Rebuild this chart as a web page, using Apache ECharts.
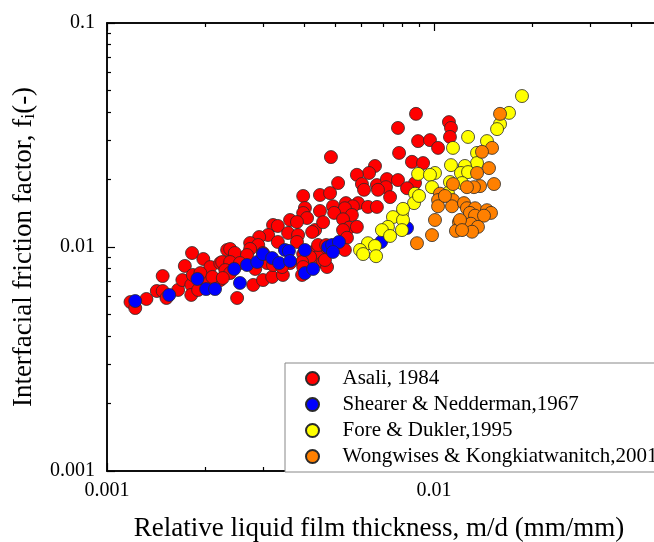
<!DOCTYPE html>
<html><head><meta charset="utf-8">
<script src="https://cdn.jsdelivr.net/npm/echarts@6/dist/echarts.min.js"></script>
<style>html,body{margin:0;padding:0;overflow:hidden;background:#fff;width:654px;height:542px}#c{width:900px;height:542px}</style>
</head><body><div id="c"></div><script>
const seriesNames = ['Asali, 1984', 'Shearer & Nedderman,1967', 'Fore & Dukler,1995', 'Wongwises & Kongkiatwanitch,2001'];
const seriesColors = ['#ff0000', '#0000ff', '#ffff00', '#ff8000'];

const asaliX = [0.00118,0.00122,0.00132,0.00142,0.00148,0.00152,0.00148,0.00165,0.00170,0.00173,0.00182,0.00181,0.00181,0.00197,0.00183,0.00195,0.00207,0.00222,0.00233,0.00204,0.00222,0.00190,0.00193,0.00210,0.00250,0.00280,0.00300,0.00320,0.00345,0.00395,
0.00398,0.00448,0.00403,0.00398,0.00448,0.00409,0.00363,0.00381,0.00322,0.00333,0.00433,0.00424,0.00311,0.00333,0.00358,0.00384,0.00292,0.00274,0.00290,0.00381,0.00238,0.00246,0.00274,0.00268,0.00300,0.00471,0.00427,0.00398,0.00442,0.00418,0.00225,0.00238,0.00255,0.00395,0.00458,0.00363,0.00230,0.00238,0.00284,0.00309,0.00322,0.00226,0.00398,0.00471,0.00442,0.00343,
0.00776,0.00881,0.00894,0.00972,0.00782,0.00856,0.00926,0.00484,0.00660,0.00633,0.00581,0.00509,0.00669,0.00718,0.00776,0.00875,0.00713,0.00674,0.00602,0.00611,0.00827,0.00481,0.00734,0.00586,0.00538,0.00565,0.00491,0.00534,0.00628,0.00669,0.00495,0.00561,0.00527,0.00550,0.00581,0.00527,0.00458,0.00542,0.00468,0.00534,0.00464,0.01111,0.01127,0.01119,0.01029];
const asaliY = [0.00568,0.00534,0.00586,0.00636,0.00636,0.00592,0.00742,0.00643,0.00712,0.00823,0.00940,0.00677,0.00611,0.00884,0.00750,0.00677,0.00814,0.00848,0.00970,0.00712,0.00712,0.00643,0.00765,0.00735,0.00592,0.00677,0.00712,0.00735,0.00750,0.00750,
0.01690,0.01707,0.01493,0.01418,0.01448,0.01347,0.01320,0.01293,0.01254,0.01241,0.01191,0.01167,0.01131,0.01053,0.01155,0.01131,0.01108,0.01042,0.01021,0.01053,0.00980,0.00940,0.00980,0.00921,0.00940,0.00970,0.00950,0.00930,0.00903,0.00903,0.00857,0.00857,0.00848,0.00857,0.00857,0.00848,0.00789,0.00765,0.00798,0.00848,0.00831,0.00727,0.00814,0.00814,0.01021,0.00814,
0.0340,0.0393,0.0297,0.0300,0.0263,0.0240,0.0237,0.0252,0.0230,0.0214,0.0210,0.0193,0.0189,0.0201,0.0199,0.0193,0.0185,0.0180,0.0191,0.0180,0.0183,0.0174,0.0167,0.0157,0.0157,0.0152,0.0152,0.0149,0.0151,0.0151,0.0142,0.0139,0.0133,0.0122,0.0123,0.0119,0.0129,0.0110,0.0102,0.0097,0.00875,0.0361,0.0340,0.0310,0.0277];

const shearerX = [0.00122,0.00155,0.00189,0.00201,0.00214,0.00245,0.00255,0.00268,0.00288,0.00300,0.00320,0.00336,0.00350,0.00360,0.00363,0.00403,0.00403,0.00427,0.00474,0.00488,0.00512,0.00491,0.00689,0.00827];
const shearerY = [0.00574,0.00611,0.00720,0.00649,0.00649,0.00798,0.00691,0.00831,0.00857,0.00930,0.00893,0.00848,0.00970,0.00960,0.00866,0.00970,0.00765,0.00798,0.01000,0.01021,0.01053,0.00950,0.01053,0.01216];

const foreX = [0.00894,0.00875,0.00869,0.00900,0.00798,0.00749,0.00804,0.00798,0.00723,0.00693,0.00734,0.00628,0.00660,0.00594,0.00607,0.00665,0.00804,0.01858,0.01696,0.01592,0.01559,0.01271,0.01452,0.01143,0.01354,0.01354,0.01127,0.01243,0.01209,0.01271,0.01007,0.00972,0.01119,0.01218,0.00986,0.01103];
const foreY = [0.0212,0.0173,0.0157,0.0169,0.0140,0.0136,0.0132,0.0119,0.0123,0.0119,0.0112,0.0104,0.0101,0.0097,0.0093,0.0091,0.0148,0.0472,0.0397,0.0354,0.0336,0.0310,0.0297,0.0277,0.0263,0.0237,0.0232,0.0230,0.0214,0.0216,0.0214,0.0210,0.0195,0.0193,0.0185,0.0174];

const wongX = [0.00887,0.00986,0.01592,0.01505,0.01402,0.01473,0.01354,0.01526,0.01383,0.01325,0.01261,0.01143,0.01043,0.01029,0.01029,0.01143,0.01135,0.01235,0.01261,0.01335,0.01288,0.01335,0.01452,0.01494,0.01422,0.01192,0.01226,0.01297,0.01363,0.01167,0.01307,0.01007,0.01080,0.01201,0.01218];
const wongY = [0.0104,0.0113,0.0393,0.0277,0.0266,0.0225,0.0214,0.0191,0.0187,0.0185,0.0185,0.0191,0.0173,0.0162,0.0152,0.0162,0.0152,0.0157,0.0149,0.0149,0.0142,0.0138,0.0146,0.0142,0.0138,0.0129,0.0120,0.0127,0.0123,0.0118,0.0117,0.0132,0.0169,0.0132,0.0119];

const majorTicks = [0.001, 0.01, 0.1];
const majorLabels = ['0.001', '0.01', '0.1'];
const minorTicks = [0.002,0.003,0.004,0.005,0.006,0.007,0.008,0.009,0.02,0.03,0.04,0.05,0.06,0.07,0.08,0.09];
const xTitle = 'Relative liquid film thickness, m/d (mm/mm)';

const FONT = 'Liberation Serif';
const allX = [asaliX, shearerX, foreX, wongX];
const allY = [asaliY, shearerY, foreY, wongY];

function fmt(v) {
  let best = 0;
  for (let i = 1; i < majorTicks.length; i++) {
    if (Math.abs(Math.log10(v) - Math.log10(majorTicks[i])) < Math.abs(Math.log10(v) - Math.log10(majorTicks[best]))) best = i;
  }
  return majorLabels[best];
}

function mkAxis(pos, kind, isX) {
  const major = kind === 'major';
  const ax = {
    type: 'log', logBase: 10, min: 0.001, max: 0.1, position: pos,
    axisLine: { show: true, lineStyle: { color: '#000', width: 1.5 } },
    axisTick: { show: true, inside: true, length: major ? 8 : 4, customValues: major ? majorTicks : minorTicks, lineStyle: { color: '#000', width: 1.2 } },
    axisLabel: { show: false },
    splitLine: { show: false }
  };
  if (major && (pos === 'bottom' || pos === 'left')) {
    ax.axisLabel = { show: true, customValues: majorTicks, formatter: fmt, fontFamily: FONT, fontSize: 20, color: '#000', margin: isX ? 10 : 12 };
  }
  return ax;
}

const chart = echarts.init(document.getElementById('c'), null, { renderer: 'canvas' });
chart.setOption({
  animation: false,
  backgroundColor: '#fff',
  grid: { left: 107, top: 23, width: 654, height: 448 },
  xAxis: [mkAxis('bottom', 'major', true), mkAxis('bottom', 'minor', true), mkAxis('top', 'major', true), mkAxis('top', 'minor', true)],
  yAxis: [
    Object.assign(mkAxis('left', 'major', false), {
      name: '{a|Interfacial friction factor, f}{s|i}{a|(-)}',
      nameLocation: 'middle', nameGap: 69,
      nameTextStyle: { fontFamily: FONT, color: '#000', rich: { a: { fontFamily: FONT, fontSize: 27, color: '#000' }, s: { fontFamily: FONT, fontSize: 18, color: '#000', padding: [11, 0, 0, 0] } } }
    }),
    mkAxis('left', 'minor', false)
  ],
  legend: {
    orient: 'vertical', left: 285, top: 363,
    padding: [5, 60, 5, 20], itemGap: 5, itemWidth: 50, itemHeight: 13,
    icon: 'circle', borderColor: '#888', borderWidth: 1, backgroundColor: '#fff',
    textStyle: { fontFamily: FONT, fontSize: 21, color: '#000' },
    data: seriesNames
  },
  graphic: [{
    type: 'text', x: 379, y: 529,
    style: { text: xTitle, font: '27px "Liberation Serif"', fill: '#000', textAlign: 'center', textVerticalAlign: 'middle' }
  }],
  series: seriesNames.map((n, i) => ({
    name: n, type: 'scatter', xAxisIndex: 0, yAxisIndex: 0,
    symbol: 'circle', symbolSize: 13,
    itemStyle: { color: seriesColors[i], borderColor: '#2a2a2a', borderWidth: 0.8, opacity: 1 },
    data: allX[i].map((x, k) => [x, allY[i][k]])
  }))
});
</script></body></html>
